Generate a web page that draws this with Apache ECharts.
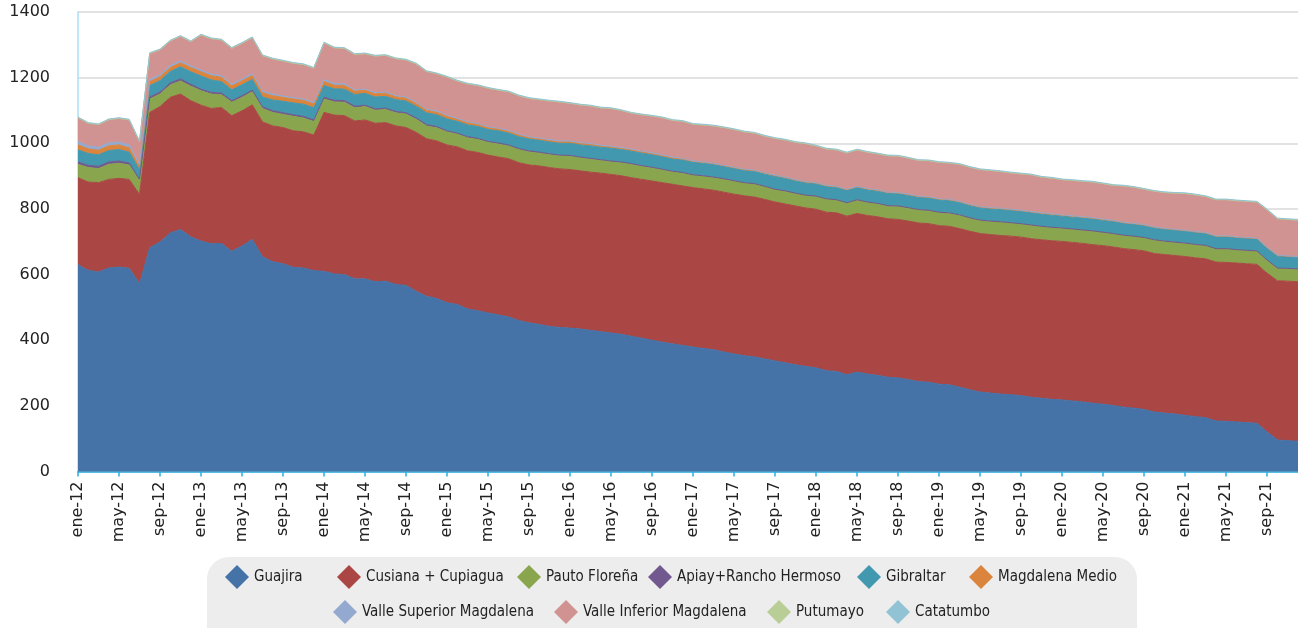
<!DOCTYPE html>
<html>
<head>
<meta charset="utf-8">
<script src="https://cdn.jsdelivr.net/npm/echarts@6/dist/echarts.min.js"></script>
<style>
html,body{margin:0;padding:0;background:#fff;}
#chart{width:1298px;height:628px;}
</style>
</head>
<body>
<div id="chart"></div>
<script>
// ---- tick labels / categories ----
const monthNames = ['ene','feb','mar','abr','may','jun','jul','ago','sep','oct','nov','dic'];
const years = ['12','13','14','15','16','17','18','19','20','21'];
const categories = [];
years.forEach(y => monthNames.forEach(m => categories.push(m + '-' + y)));

const yTicks = [0,200,400,600,800,1000,1200,1400];

// ---- series values (monthly, ene-12 .. dic-21) ----
const guajira = [
630,613,608,620,623,619,572,682,699,727,737,715,
702,694,695,671,687,707,654,639,633,622,620,612,
610,602,600,587,587,578,580,570,567,549,534,527,
514,509,495,490,483,477,471,460,453,448,442,439,
437,434,430,426,422,418,412,406,400,394,389,384,
379,375,371,364,358,353,349,343,337,331,325,320,
316,307,305,295,303,297,293,287,285,280,274,272,
266,264,257,249,242,239,236,234,231,226,223,220,
218,215,212,208,205,201,196,193,189,181,178,175,
171,167,164,154,153,151,149,147,120,96,94,92];

const cusiana = [
265,269,272,270,270,271,272,412,413,413,413,415,
414,412,414,413,412,410,411,414,415,416,415,413,
484,484,484,481,484,483,483,483,481,484,480,480,
481,480,482,482,481,481,482,481,481,483,484,483,
483,482,482,483,483,483,483,484,485,486,486,486,
486,486,486,487,487,487,487,486,484,484,484,483,
483,483,483,483,483,483,483,483,483,483,483,483,
483,483,483,483,483,483,483,483,483,483,483,483,
483,483,483,483,483,483,483,483,483,483,483,483,
484,484,484,484,484,484,484,484,484,485,486,486];

const pauto = [
41,44,43,46,46,44,41,41,38,38,40,44,
44,44,39,41,41,40,41,41,40,44,42,41,
41,40,41,40,41,40,40,40,41,40,39,40,
40,39,40,40,39,40,39,40,40,39,40,40,
41,40,40,39,39,40,41,40,40,39,38,39,
38,39,39,40,40,39,40,39,38,39,38,38,
39,40,39,40,41,40,40,39,40,40,40,40,
40,40,41,40,40,40,41,40,40,41,40,40,
40,40,40,41,40,40,40,40,40,41,40,40,
40,40,40,40,41,40,40,40,39,38,38,38];

const apiay = [
7,7,7,7,7,6,6,6,6,6,6,6,
5,5,5,5,5,5,5,5,5,5,5,5,
5,5,5,5,4,4,4,4,4,4,4,4,
3,3,3,3,3,3,3,3,3,3,2,2,
2,2,2,2,2,2,2,2,2,2,2,2,
1,1,1,1,1,1,1,1,1,1,1,1,
1,1,1,1,1,1,1,1,1,1,1,1,
1,1,1,1,1,1,1,1,1,1,1,1,
1,1,1,1,1,1,1,1,1,1,1,1,
1,1,1,1,1,1,1,1,1,1,1,1];

const gibraltar = [
37,36,35,35,35,33,28,35,35,35,37,38,
40,38,35,33,33,33,30,33,35,36,37,37,
36,35,35,36,36,36,36,36,36,36,36,36,
36,36,36,36,36,37,36,36,36,36,36,36,
37,37,38,38,39,38,38,38,38,38,37,38,
38,38,38,37,37,37,37,37,39,38,37,37,
37,37,37,37,37,37,37,37,37,37,37,37,
37,37,37,37,37,37,37,37,37,37,37,37,
36,36,36,36,36,36,36,36,36,36,36,36,
36,36,36,36,36,36,36,36,36,36,35,35];

const magdalenaMedio = [
15,14,14,14,14,13,10,12,12,12,12,13,
13,13,13,12,12,12,13,13,12,12,12,12,
12,11,11,10,10,10,10,9,9,9,8,8,
8,7,7,7,6,6,6,6,5,5,5,5,
5,5,5,4,4,4,4,4,4,4,4,3,
3,3,3,3,3,3,3,3,3,3,3,3,
3,3,3,3,3,3,3,3,3,3,3,3,
3,3,3,3,3,3,3,3,3,3,3,3,
3,3,3,3,3,3,2,2,2,2,2,2,
2,2,2,2,2,2,2,2,2,2,2,2];

const valleSuperior = [
10,9,9,9,9,9,7,6,6,6,6,5,
5,5,5,5,5,5,5,5,4,4,4,4,
6,5,5,4,3,3,3,3,3,3,3,3,
3,2,2,2,2,2,2,2,2,2,2,2,
2,2,2,2,2,2,2,2,2,2,2,2,
1,1,1,1,1,1,1,1,1,1,1,1,
1,1,1,1,1,1,1,1,1,1,1,1,
1,1,1,1,1,1,1,1,1,1,1,1,
1,1,1,1,1,1,1,1,1,1,1,1,
1,1,1,1,1,1,1,1,1,1,1,1];

const valleInferior = [
72,68,68,70,71,75,68,79,75,74,74,73,
106,107,108,109,109,109,107,106,106,104,104,104,
111,108,107,107,107,111,111,112,112,116,114,113,
116,113,115,115,117,115,117,116,116,116,117,118,
114,114,114,113,114,112,109,110,111,112,111,112,
111,112,113,114,114,113,112,111,111,112,113,115,
111,110,110,110,110,110,109,110,110,109,108,109,
110,110,112,112,112,112,111,110,110,111,108,108,
106,107,107,108,107,106,110,109,107,108,108,109,
111,111,109,109,109,109,109,109,113,110,110,110];

const putumayo = [
1,1,1,1,1,1,1,1,1,1,1,1,
1,1,1,1,1,1,1,1,1,1,1,1,
1,1,1,1,1,1,1,1,1,1,1,1,
1,1,1,1,1,1,1,1,1,1,1,1,
1,1,1,1,1,1,1,1,1,1,1,1,
1,1,1,1,1,1,1,1,1,1,1,1,
1,1,1,1,1,1,1,1,1,1,1,1,
1,1,1,1,1,1,1,1,1,1,1,1,
1,1,1,1,1,1,1,1,1,1,1,1,
1,1,1,1,1,1,1,1,1,1,1,1];

const catatumbo = [
2,2,2,2,2,2,2,2,2,2,2,2,
2,2,2,2,2,2,2,2,2,2,2,2,
2,2,2,2,2,2,2,2,2,2,2,2,
2,2,2,2,2,2,2,2,2,2,2,2,
2,2,2,2,2,2,2,2,2,2,2,2,
2,2,2,2,2,2,2,2,2,2,2,2,
2,2,2,2,2,2,2,2,2,2,2,2,
2,2,2,2,2,2,2,2,2,2,2,2,
2,2,2,2,2,2,2,2,2,2,2,2,
2,2,2,2,2,2,2,2,2,2,2,2];

const seriesNames = ['Guajira','Cusiana + Cupiagua','Pauto Floreña','Apiay+Rancho Hermoso','Gibraltar',
  'Magdalena Medio','Valle Superior Magdalena','Valle Inferior Magdalena','Putumayo','Catatumbo'];
const seriesData = [guajira,cusiana,pauto,apiay,gibraltar,magdalenaMedio,valleSuperior,valleInferior,putumayo,catatumbo];
const colors = ['#4572a7','#aa4643','#89a54e','#71588f','#4198af','#db843d','#93a9cf','#d09392','#b9cd96','#92c3d4'];

// legend placement (one legend box per item)
const legendPos = [
  [225,565],[337,565],[517,565],[648,565],[857,565],[969,565],
  [333,600],[554,600],[767,600],[886,600]
];

const chart = echarts.init(document.getElementById('chart'), null, {renderer:'canvas'});

const series = seriesNames.map((n,i) => ({
  name: n,
  type: 'line',
  stack: 'total',
  data: seriesData[i],
  symbol: 'none',
  showSymbol: false,
  smooth: false,
  lineStyle: {width: 1, color: colors[i]},
  itemStyle: {color: colors[i]},
  areaStyle: {color: colors[i], opacity: 1},
  emphasis: {disabled: true},
  z: 2
}));

const legends = seriesNames.map((n,i) => ({
  data: [n],
  left: legendPos[i][0],
  top: legendPos[i][1],
  padding: 0,
  icon: 'diamond',
  itemWidth: 24,
  itemHeight: 24,
  selectedMode: false,
  textStyle: {fontFamily: '"DejaVu Sans Condensed", "Liberation Sans Narrow", sans-serif', fontSize: 15, color: '#222'}
}));

chart.setOption({
  animation: false,
  color: colors,
  graphic: [{
    type: 'rect',
    shape: {x: 207, y: 557, width: 930, height: 100, r: 22},
    style: {fill: '#ededed'},
    z: -10,
    silent: true
  }],
  legend: legends,
  grid: {left: 78, right: 0, top: 12, bottom: 156.5, containLabel: false},
  xAxis: {
    type: 'category',
    data: categories,
    boundaryGap: false,
    axisLine: {show: true, lineStyle: {color: '#2ab0e4', width: 1.5}},
    axisTick: {show: true, interval: 3, length: 5, lineStyle: {color: '#2ab0e4', width: 1.5}},
    axisLabel: {
      interval: 3, rotate: 90, margin: 10,
      fontFamily: '"DejaVu Sans", sans-serif', fontSize: 16, color: '#222'
    },
    splitLine: {show: false}
  },
  yAxis: {
    type: 'value',
    min: 0, max: 1400, interval: 200,
    axisLine: {show: true, lineStyle: {color: '#a9e1f5', width: 1.5}},
    axisTick: {show: false},
    axisLabel: {
      margin: 28,
      fontFamily: '"DejaVu Sans", sans-serif', fontSize: 16, color: '#222',
      formatter: v => yTicks.includes(v) ? String(v) : ''
    },
    splitLine: {show: true, lineStyle: {color: '#d9d9d9', width: 1.5}}
  },
  series: series
});
</script>
</body>
</html>
